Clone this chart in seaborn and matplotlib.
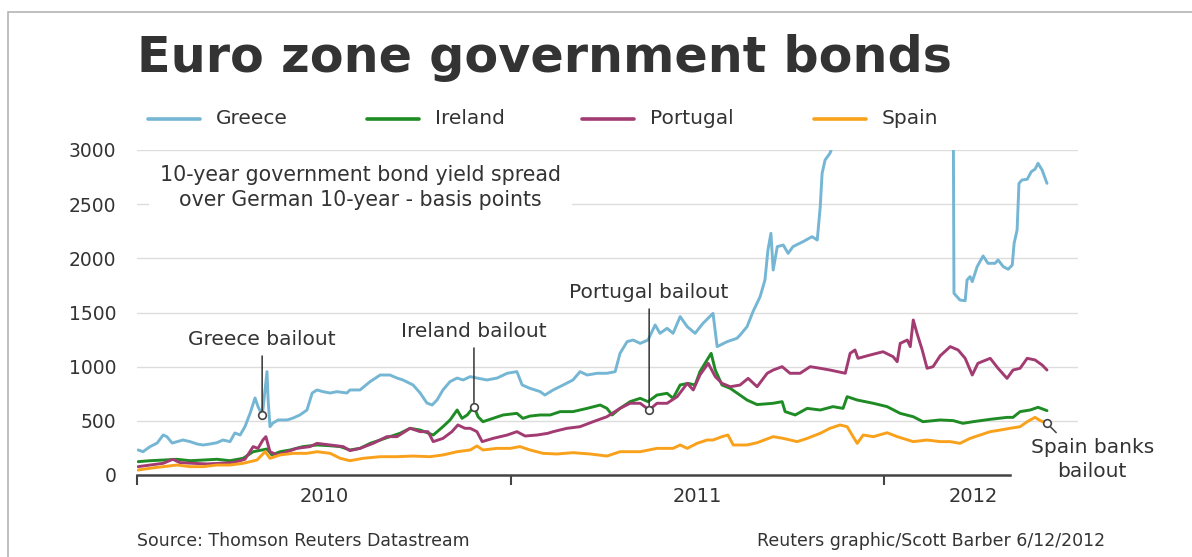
import numpy as np
import pandas as pd
import matplotlib
matplotlib.use("Agg")
import matplotlib.pyplot as plt
import seaborn as sns
from matplotlib.lines import Line2D
from matplotlib.patches import Rectangle

# ---------------- data (spread over German 10-year, basis points) ----------------
countries = ["Greece", "Ireland", "Portugal", "Spain"]
colors = {"Greece": "#74B6D3", "Ireland": "#1E8B24", "Portugal": "#A23B72", "Spain": "#F9A11B"}

greece_t = [2010.003, 2010.016, 2010.035, 2010.054, 2010.070, 2010.080, 2010.094, 2010.107, 2010.123, 2010.142,
            2010.161, 2010.177, 2010.195, 2010.214, 2010.230, 2010.249, 2010.262, 2010.276, 2010.289, 2010.303,
            2010.316, 2010.324, 2010.335, 2010.337, 2010.348, 2010.351, 2010.356, 2010.364, 2010.378, 2010.402,
            2010.418, 2010.436, 2010.455, 2010.469, 2010.482, 2010.498, 2010.517, 2010.535, 2010.562, 2010.570,
            2010.597, 2010.624, 2010.651, 2010.677, 2010.696, 2010.712, 2010.739, 2010.758, 2010.776, 2010.790,
            2010.803, 2010.819, 2010.838, 2010.857, 2010.873, 2010.892, 2010.910, 2010.937, 2010.964, 2010.991,
            2011.017, 2011.031, 2011.052, 2011.079, 2011.092, 2011.114, 2011.141, 2011.167, 2011.186, 2011.205,
            2011.232, 2011.258, 2011.280, 2011.293, 2011.312, 2011.328, 2011.347, 2011.368, 2011.387, 2011.400,
            2011.419, 2011.435, 2011.454, 2011.473, 2011.494, 2011.515, 2011.542, 2011.553, 2011.580, 2011.606,
            2011.614, 2011.633, 2011.649, 2011.668, 2011.681, 2011.689, 2011.697, 2011.703, 2011.714, 2011.730,
            2011.743, 2011.756, 2011.783, 2011.807, 2011.821, 2011.829, 2011.834, 2011.842, 2011.855, 2011.869,
            2011.909, 2011.989, 2012.070, 2012.137, 2012.185, 2012.187, 2012.195, 2012.203, 2012.217, 2012.222,
            2012.230, 2012.236, 2012.249, 2012.265, 2012.278, 2012.297, 2012.305, 2012.319, 2012.332, 2012.343,
            2012.348, 2012.356, 2012.361, 2012.369, 2012.383, 2012.394, 2012.404, 2012.412, 2012.423, 2012.436]
greece_v = [231, 215, 262, 295, 369, 354, 295, 308, 323, 308,
            286, 277, 286, 298, 323, 308, 388, 369, 446, 572,
            711, 631, 554, 600, 954, 692, 446, 480, 508, 508,
            526, 554, 600, 757, 785, 769, 757, 769, 757, 785,
            785, 862, 923, 923, 895, 877, 831, 757, 665, 646,
            692, 785, 862, 895, 877, 908, 895, 877, 895, 939,
            954, 831, 800, 770, 738, 785, 831, 877, 954, 923,
            939, 939, 954, 1123, 1231, 1246, 1215, 1246, 1385, 1308,
            1354, 1308, 1462, 1369, 1308, 1400, 1492, 1185, 1231, 1262,
            1290, 1369, 1508, 1646, 1800, 2077, 2231, 1892, 2108, 2123,
            2046, 2108, 2154, 2200, 2169, 2477, 2785, 2908, 2970, 3100,
            3300, 3500, 3700, 3600, 3400, 1677, 1646, 1615, 1609, 1800,
            1831, 1785, 1923, 2022, 1954, 1954, 1985, 1923, 1899, 1938,
            2139, 2262, 2692, 2723, 2730, 2800, 2823, 2877, 2815, 2692]

ireland_t = [2010.003, 2010.035, 2010.070, 2010.107, 2010.142, 2010.177, 2010.214, 2010.249, 2010.284, 2010.311,
             2010.335, 2010.348, 2010.361, 2010.383, 2010.410, 2010.444, 2010.482, 2010.517, 2010.544, 2010.570,
             2010.597, 2010.624, 2010.651, 2010.677, 2010.704, 2010.731, 2010.758, 2010.793, 2010.819, 2010.838,
             2010.857, 2010.870, 2010.884, 2010.902, 2010.913, 2010.926, 2010.953, 2010.980, 2011.017, 2011.033,
             2011.052, 2011.079, 2011.106, 2011.133, 2011.167, 2011.205, 2011.240, 2011.258, 2011.272, 2011.293,
             2011.320, 2011.347, 2011.368, 2011.392, 2011.419, 2011.435, 2011.454, 2011.475, 2011.494, 2011.507,
             2011.526, 2011.537, 2011.548, 2011.566, 2011.588, 2011.614, 2011.633, 2011.660, 2011.703, 2011.727,
             2011.735, 2011.762, 2011.794, 2011.829, 2011.863, 2011.890, 2011.901, 2011.928, 2011.971, 2012.008,
             2012.043, 2012.078, 2012.104, 2012.150, 2012.185, 2012.211, 2012.238, 2012.284, 2012.329, 2012.345,
             2012.364, 2012.391, 2012.412, 2012.436]
ireland_v = [123, 132, 138, 145, 132, 138, 145, 132, 154, 215,
             231, 240, 185, 215, 231, 262, 277, 270, 262, 231,
             246, 292, 323, 354, 385, 431, 415, 369, 446, 508,
             600, 523, 554, 631, 538, 492, 523, 554, 569, 523,
             544, 554, 554, 585, 585, 615, 646, 615, 554, 615,
             677, 708, 677, 738, 754, 708, 831, 846, 831, 954,
             1062, 1123, 969, 831, 800, 738, 692, 650, 662, 677,
             585, 554, 615, 600, 631, 615, 723, 692, 662, 631,
             569, 538, 492, 508, 502, 477, 492, 514, 532, 532,
             585, 600, 625, 594]

portugal_t = [2010.003, 2010.035, 2010.070, 2010.096, 2010.115, 2010.150, 2010.187, 2010.222, 2010.257, 2010.289,
              2010.311, 2010.324, 2010.337, 2010.345, 2010.356, 2010.375, 2010.402, 2010.428, 2010.463, 2010.482,
              2010.517, 2010.552, 2010.570, 2010.597, 2010.632, 2010.669, 2010.696, 2010.731, 2010.758, 2010.779,
              2010.793, 2010.819, 2010.843, 2010.859, 2010.878, 2010.892, 2010.910, 2010.924, 2010.953, 2010.991,
              2011.017, 2011.039, 2011.071, 2011.100, 2011.114, 2011.151, 2011.186, 2011.221, 2011.258, 2011.293,
              2011.320, 2011.347, 2011.371, 2011.392, 2011.419, 2011.446, 2011.473, 2011.489, 2011.507, 2011.529,
              2011.548, 2011.566, 2011.588, 2011.614, 2011.636, 2011.660, 2011.687, 2011.703, 2011.727, 2011.748,
              2011.775, 2011.802, 2011.829, 2011.855, 2011.896, 2011.909, 2011.922, 2011.930, 2011.963, 2011.997,
              2012.024, 2012.035, 2012.043, 2012.062, 2012.070, 2012.078, 2012.088, 2012.102, 2012.115, 2012.131,
              2012.150, 2012.177, 2012.198, 2012.217, 2012.236, 2012.251, 2012.284, 2012.305, 2012.329, 2012.345,
              2012.364, 2012.383, 2012.404, 2012.423, 2012.436]
portugal_v = [77, 92, 108, 145, 114, 108, 102, 108, 114, 145,
              262, 246, 323, 354, 215, 185, 215, 246, 262, 292,
              277, 262, 225, 246, 292, 354, 354, 431, 400, 400,
              308, 338, 400, 462, 431, 431, 400, 308, 338, 369,
              400, 360, 369, 385, 400, 431, 446, 492, 538, 615,
              662, 662, 600, 662, 662, 723, 846, 785, 923, 1031,
              908, 846, 815, 830, 892, 815, 939, 969, 1000, 939,
              939, 1000, 985, 969, 939, 1123, 1154, 1077, 1108, 1138,
              1092, 1046, 1215, 1246, 1185, 1431, 1308, 1154, 985, 1000,
              1100, 1185, 1154, 1077, 923, 1031, 1077, 985, 892, 969,
              985, 1077, 1062, 1015, 969]

spain_t = [2010.003, 2010.035, 2010.070, 2010.107, 2010.142, 2010.177, 2010.214, 2010.249, 2010.284, 2010.321,
           2010.343, 2010.356, 2010.383, 2010.418, 2010.455, 2010.482, 2010.517, 2010.544, 2010.570, 2010.605,
           2010.651, 2010.696, 2010.739, 2010.784, 2010.819, 2010.857, 2010.892, 2010.910, 2010.926, 2010.964,
           2010.999, 2011.025, 2011.052, 2011.087, 2011.124, 2011.167, 2011.213, 2011.258, 2011.293, 2011.347,
           2011.392, 2011.435, 2011.454, 2011.473, 2011.499, 2011.526, 2011.542, 2011.566, 2011.582, 2011.596,
           2011.633, 2011.660, 2011.703, 2011.730, 2011.767, 2011.794, 2011.829, 2011.855, 2011.882, 2011.901,
           2011.917, 2011.928, 2011.944, 2011.971, 2012.008, 2012.035, 2012.078, 2012.115, 2012.150, 2012.177,
           2012.203, 2012.230, 2012.257, 2012.284, 2012.311, 2012.337, 2012.364, 2012.383, 2012.404, 2012.418,
           2012.436]
spain_v = [46, 62, 77, 92, 77, 77, 92, 92, 108, 138,
           215, 154, 185, 200, 200, 215, 200, 154, 132, 154,
           169, 169, 175, 169, 185, 215, 231, 268, 231, 246,
           246, 262, 231, 200, 194, 206, 194, 175, 215, 215,
           246, 246, 277, 246, 292, 323, 323, 354, 369, 277,
           277, 298, 354, 338, 308, 338, 385, 431, 462, 446,
           354, 292, 369, 354, 390, 354, 308, 323, 308, 308,
           292, 338, 369, 400, 415, 431, 446, 492, 532, 502,
           477]

y_ticks = [0, 500, 1000, 1500, 2000, 2500, 3000]
year_ticks = [2010, 2011, 2012]
year_labels = ["2010", "2011", "2012"]
year_label_pos = [2010.5, 2011.5, 2012.238]

event_labels = ["Greece bailout", "Ireland bailout", "Portugal bailout", "Spain banks\nbailout"]
event_country = ["Greece", "Ireland", "Portugal", "Spain"]
event_t = [2010.335, 2010.902, 2011.371, 2012.436]

title = "Euro zone government bonds"
subtitle = "10-year government bond yield spread\nover German 10-year - basis points"
source = "Source: Thomson Reuters Datastream"
credit = "Reuters graphic/Scott Barber 6/12/2012"

# ---------------- build long-form table ----------------
series = {"Greece": (greece_t, greece_v), "Ireland": (ireland_t, ireland_v),
          "Portugal": (portugal_t, portugal_v), "Spain": (spain_t, spain_v)}
frames = []
for name in countries:
    t, v = series[name]
    assert len(t) == len(v), name
    frames.append(pd.DataFrame({"year": t, "spread": v, "country": name}))
df = pd.concat(frames, ignore_index=True)

# ---------------- figure ----------------
sns.set_theme(style="white")
plt.rcParams["font.family"] = ["DejaVu Sans"]
TXT = "#333333"

W, H = 1192, 557
fig = plt.figure(figsize=(W / 100, H / 100), dpi=100, facecolor="white")
ax = fig.add_axes([137 / W, (H - 475) / H, (1078 - 137) / W, (475 - 150) / H])

sns.lineplot(data=df, x="year", y="spread", hue="country", hue_order=countries,
             palette=colors, estimator=None, sort=False, linewidth=2.1,
             legend=False, ax=ax)

ax.set_xlim(2010.0, 2012.519)
ax.set_ylim(0, 3000)
ax.set_xlabel("")
ax.set_ylabel("")

ax.set_yticks(y_ticks)
ax.set_yticklabels([str(v) for v in y_ticks])
ax.tick_params(axis="y", left=False, length=0, pad=15, labelsize=13.5, labelcolor=TXT)

ax.set_xticks(year_ticks)
ax.set_xticklabels([""] * len(year_ticks))
ax.set_xticks(year_label_pos, minor=True)
ax.set_xticklabels(year_labels, minor=True)
ax.tick_params(axis="x", which="major", bottom=True, direction="out", length=7, width=1.5, color="#444444")
ax.tick_params(axis="x", which="minor", bottom=True, length=0, pad=9, labelsize=14, labelcolor=TXT)

ax.grid(False)
ax.yaxis.grid(True, color="#DDDDDD", linewidth=1.0)
ax.set_axisbelow(True)
ax.get_ygridlines()[0].set_visible(False)

for s in ["left", "right", "top"]:
    ax.spines[s].set_visible(False)
ax.spines["bottom"].set_color("#444444")
ax.spines["bottom"].set_linewidth(1.8)
ax.spines["bottom"].set_bounds(2010.0, 2012.337)

# ---------------- event annotations ----------------
text_y = {"Greece": 1255, "Ireland": 1329, "Portugal": 1689}
for lab, c, et in zip(event_labels, event_country, event_t):
    t, v = series[c]
    i = int(np.argmin(np.abs(np.array(t) - et)))
    px, py = t[i], v[i]
    ax.plot(px, py, marker="o", ms=5.5, mfc="white", mec="#444444", mew=1.2, zorder=6, clip_on=False)
    if c == "Spain":
        ax.annotate(lab, xy=(px, py), xytext=(2012.557, 143), ha="center", va="center",
                    fontsize=14.5, color=TXT, linespacing=1.35, annotation_clip=False,
                    arrowprops=dict(arrowstyle="-", color="#444444", lw=1.1,
                                    shrinkA=2, shrinkB=3, relpos=(0.25, 1.0)))
    else:
        ax.annotate(lab, xy=(px, py), xytext=(px, text_y[c]), ha="center", va="center",
                    fontsize=14.5, color=TXT, annotation_clip=False,
                    arrowprops=dict(arrowstyle="-", color="#333333", lw=1.1,
                                    shrinkA=3, shrinkB=3, relpos=(0.5, 0.0)))

ax.text(2010.598, 2655, subtitle, ha="center", va="center", fontsize=14.8,
        color=TXT, linespacing=1.3, zorder=4,
        bbox=dict(boxstyle="square,pad=0.55", facecolor="white", edgecolor="none"))

# ---------------- title, legend, footer ----------------
fig.text(137 / W, 1 - 72 / H, title, ha="left", va="baseline", fontsize=35.5,
         fontweight="bold", color=TXT)

leg_x = [148, 367, 582, 814]
leg_y = 1 - 119 / H
for x0, name in zip(leg_x, countries):
    fig.add_artist(Line2D([x0 / W, (x0 + 52) / W], [leg_y, leg_y], transform=fig.transFigure,
                          color=colors[name], lw=2.6))
    fig.text((x0 + 68) / W, leg_y, name, ha="left", va="center", fontsize=14.5, color=TXT)

fig.text(137 / W, 1 - 541 / H, source, ha="left", va="center", fontsize=12.5, color=TXT)
fig.text(1105 / W, 1 - 541 / H, credit, ha="right", va="center", fontsize=12.5, color=TXT)

fig.add_artist(Rectangle((8 / W, -0.1), 1.2, 1.1 - 12 / H, transform=fig.transFigure,
                         fill=False, edgecolor="#B5B5B5", linewidth=1.2))

fig.savefig("out.png", dpi=100, facecolor="white")
